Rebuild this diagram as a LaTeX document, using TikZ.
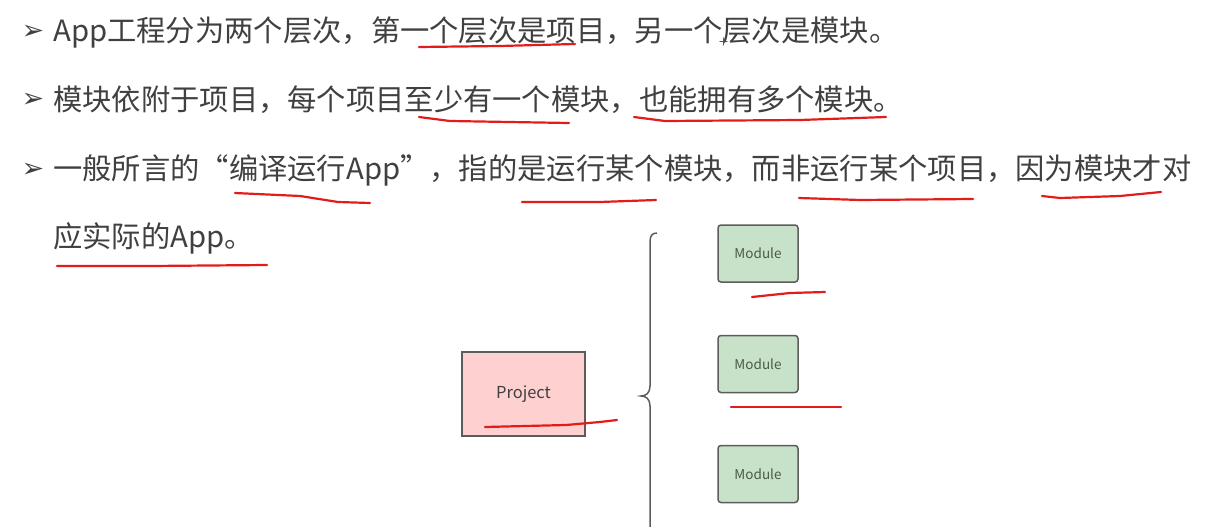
\documentclass[tikz,border=0pt]{standalone}
\usepackage{fontspec}
\newfontfamily\cjkfont{Noto Sans CJK SC}
\newfontfamily\symfont{DejaVu Sans}
\definecolor{txtgray}{HTML}{404040}
\definecolor{penred}{HTML}{E21B1B}
\definecolor{projpink}{HTML}{FFD0D0}
\definecolor{modgreen}{HTML}{C8E2C9}
\definecolor{boxgray}{HTML}{5C5C5C}
\definecolor{modtext}{HTML}{4A5A4A}
\tikzset{
  textline/.style={anchor=west, inner sep=0pt, text=txtgray, font=\cjkfont\fontsize{29.3}{34}\selectfont},
  bulletmark/.style={inner sep=0pt, text=txtgray, font=\symfont\fontsize{27}{30}\selectfont},
  pen/.style={draw=penred, line width=2.2pt, line cap=round, line join=round},
  projbox/.style={draw=boxgray, line width=1.5pt, fill=projpink, minimum width=123pt, minimum height=84pt, text=txtgray, font=\cjkfont\fontsize{16.5}{18}\selectfont},
  modbox/.style={draw=boxgray, line width=1.5pt, rounded corners=3pt, fill=modgreen, minimum width=80pt, minimum height=57pt, text=modtext, font=\cjkfont\fontsize{13.5}{15}\selectfont}
}
\begin{document}
\begin{tikzpicture}[x=1pt, y=-1pt]
    \useasboundingbox (0,0) rectangle (1224,527);
    \clip (0,0) rectangle (1224,527);

    % Bullet points
    \foreach \i/\y in {1/32,2/100,3/170} {
        \node[bulletmark] (bul\i) at (33,\y) {➢};
    }
    \node[textline] (line1) at (53,32) {App工程分为两个层次，第一个层次是项目，另一个层次是模块。};
    \node[textline] (line2) at (53,100) {模块依附于项目，每个项目至少有一个模块，也能拥有多个模块。};
    \node[textline] (line3) at (53,170) {一般所言的“编译运行App”，指的是运行某个模块，而非运行某个项目，因为模块才对};
    \node[textline] (line4) at (53,238) {应实际的App。};

    % Project and its modules
    \node[projbox] (proj) at (523.5,394) {Project};
    \foreach \i/\y in {1/253.5,2/364,3/474} {
        \node[modbox] (mod\i) at (758,\y) {Module};
    }

    % Brace
    \draw[boxgray, line width=1.5pt] (657,233) .. controls (652,233) and (650,236) .. (650,242)
        -- (650,386) .. controls (650,393) and (646,396) .. (641,396)
        .. controls (646,396) and (650,399) .. (650,406) -- (650,550)
        .. controls (650,556) and (652,559) .. (657,559);

    % Red pen marks
    \draw[pen] (419,47) -- (500,46) -- (575,44);
    \draw[pen, line width=1.3pt] (720,41.5) -- (727,41.5) (723.5,38) -- (723.5,45);
    \draw[pen] (419,117) -- (450,121) -- (569,123);
    \draw[pen] (634,117) -- (665,121) -- (800,120) -- (886,117);
    \draw[pen] (235,193) -- (300,196) -- (338,202) -- (370,203);
    \draw[pen] (522,202) -- (600,202) -- (656,200);
    \draw[pen] (799,198) -- (860,200) -- (973,199);
    \draw[pen] (1042,196) -- (1060,198) -- (1120,196) -- (1161,192);
    \draw[pen] (57,266) -- (150,266) -- (267,265);
    \draw[pen] (752,297) -- (790,293) -- (825,292);
    \draw[pen] (731,407) -- (841,407);
    \draw[pen] (485,427) -- (566,425) -- (600,422) -- (617,420);
\end{tikzpicture}
\end{document}
